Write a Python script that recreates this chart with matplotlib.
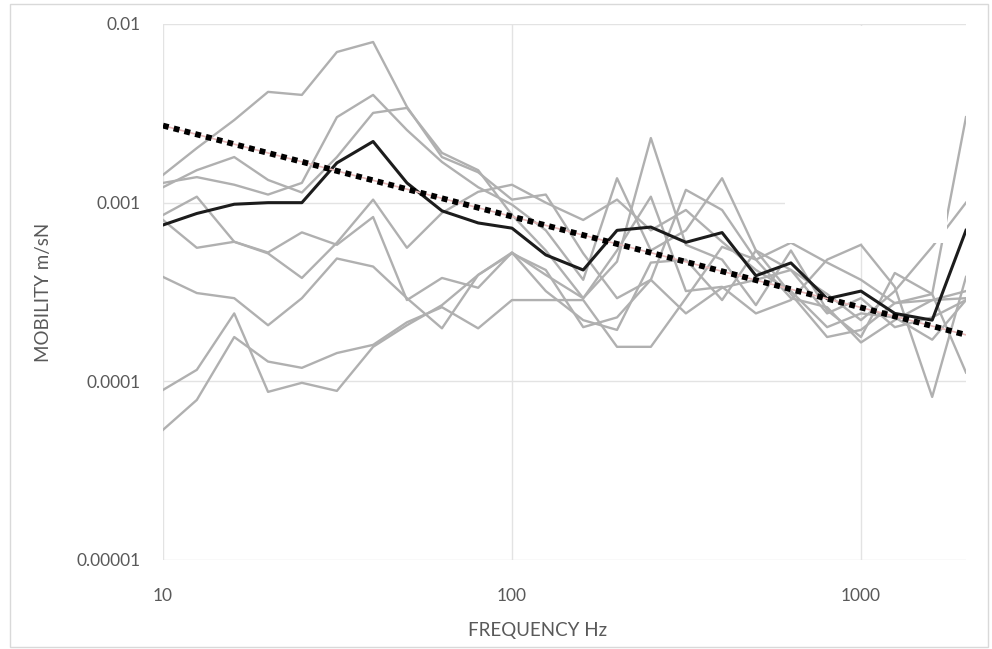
import matplotlib
matplotlib.use("Agg")
import matplotlib.pyplot as plt
from matplotlib.patches import Rectangle

# third-octave band centre frequencies (Hz)
freq = [10, 12.5, 16, 20, 25, 31.5, 40, 50, 63, 80, 100, 125, 160, 200,
        250, 315, 400, 500, 630, 800, 1000, 1250, 1600, 2000]

# individual measurements (m/sN)
m1 = [0.00143, 0.00202, 0.0029, 0.00417, 0.00401, 0.00697, 0.00793, 0.00344,
      0.0018, 0.00148, 0.00104, 0.00111, 0.00052, 0.000292, 0.00037, 0.00118,
      0.00091, 0.00048, 0.000597, 0.000462, 0.00037, 0.000274, 0.000285, 0.000292]
m2 = [0.00129, 0.00139, 0.00126, 0.00111, 0.00129, 0.00301, 0.00401, 0.00255,
      0.00169, 0.00122, 0.000975, 0.0007, 0.00037, 0.00137, 0.00054, 0.0007,
      0.00137, 0.00054, 0.00042, 0.000308, 0.00022, 0.00032, 0.000566, 0.001]
m3 = [0.00122, 0.00152, 0.0018, 0.00134, 0.00114, 0.0018, 0.00318, 0.00339,
      0.0019, 0.00152, 0.000853, 0.00054, 0.000292, 0.000468, 0.0023, 0.000581,
      0.00048, 0.000267, 0.00054, 0.00025, 0.000177, 0.000404, 0.000308, 0.00301]
m4 = [0.000853, 0.00108, 0.000604, 0.00052, 0.000379, 0.000597, 0.00104, 0.000559,
      0.000876, 0.00115, 0.00126, 0.001, 0.0008, 0.00104, 0.0007, 0.00091,
      0.000604, 0.00042, 0.00032, 0.000201, 0.00024, 0.000228, 0.000171, 0.000285]
m5 = [0.0008, 0.000559, 0.000604, 0.000526, 0.000682, 0.000581, 0.000831, 0.000285,
      0.000379, 0.000334, 0.000526, 0.000394, 0.000292, 0.00054, 0.00108, 0.00032,
      0.000338, 0.00024, 0.000285, 0.00048, 0.000581, 0.000338, 0.0000818, 0.000384]
m6 = [0.000384, 0.000312, 0.000292, 0.000206, 0.000292, 0.000487, 0.000439, 0.000292,
      0.000198, 0.000394, 0.000526, 0.00032, 0.00022, 0.000194, 0.000462, 0.00048,
      0.000285, 0.00054, 0.000308, 0.000177, 0.000194, 0.000274, 0.000308, 0.000112]
m7 = [0.0000895, 0.000116, 0.00024, 0.0000873, 0.0000981, 0.0000884, 0.000156, 0.000206,
      0.000267, 0.000394, 0.00052, 0.00042, 0.000201, 0.000228, 0.00037, 0.00024,
      0.000334, 0.00037, 0.00042, 0.00024, 0.000292, 0.000201, 0.000228, 0.000285]
m8 = [0.0000535, 0.0000787, 0.000177, 0.000129, 0.000119, 0.000144, 0.00016, 0.000214,
      0.00026, 0.000198, 0.000285, 0.000285, 0.000285, 0.000156, 0.000156, 0.000292,
      0.000566, 0.00048, 0.000292, 0.00026, 0.000165, 0.00022, 0.000285, 0.00032]

# average of the measurements
mean = [0.00075, 0.00087, 0.00098, 0.001, 0.001, 0.00167, 0.0022, 0.00129,
        0.0009, 0.00077, 0.00072, 0.00051, 0.00042, 0.0007, 0.00073, 0.0006,
        0.00068, 0.00039, 0.00046, 0.00029, 0.00032, 0.00024, 0.00022, 0.0007]

# power trend line end points
trend_freq = [10, 2000]
trend_val = [0.0027, 0.000182]

yticks = [0.00001, 0.0001, 0.001, 0.01]
ytick_labels = ["0.00001", "0.0001", "0.001", "0.01"]
xticks = [10, 100, 1000]
xtick_labels = ["10", "100", "1000"]

plt.rcParams["font.family"] = ["Lato", "DejaVu Sans"]
txt = "#595959"

fig = plt.figure(figsize=(9.92, 6.49), dpi=100)
ax = fig.add_axes([163 / 992, 1 - 560 / 649, (966 - 163) / 992, (560 - 24) / 649])

for s in [m1, m2, m3, m4, m5, m6, m7, m8]:
    ax.plot(freq, s, color="#b0b0b0", lw=1.7, zorder=2)

ax.plot(freq, mean, color="#1c1c1c", lw=2.2, zorder=4)
ax.plot(trend_freq, trend_val, color="#e6b8b8", lw=1.2, zorder=5)
ax.plot(trend_freq, trend_val, color="black", lw=4.2, linestyle=(0, (1.0, 0.9)),
        dash_capstyle="butt", zorder=6)

ax.set_xscale("log")
ax.set_yscale("log")
ax.set_xlim(10, 2000)
ax.set_ylim(0.00001, 0.01)
ax.set_xticks(xticks)
ax.set_xticklabels(xtick_labels)
ax.set_yticks(yticks)
ax.set_yticklabels(ytick_labels)
ax.minorticks_off()
ax.tick_params(length=0, labelsize=12.5, colors=txt)
ax.tick_params(axis="x", pad=20)
ax.tick_params(axis="y", pad=16)
ax.grid(True, color="#e3e3e3", lw=1.0, zorder=0)
ax.set_axisbelow(True)
for sp in ax.spines.values():
    sp.set_visible(False)

# white patches over part of the plot, as in the source image
ax.add_patch(Rectangle((0.7746, 0.5914), 0.2017, 0.405, transform=ax.transAxes,
                       facecolor="white", edgecolor="none", zorder=7))
ax.add_patch(Rectangle((0.976, 0.5914), 0.03, 0.405, transform=ax.transAxes,
                       facecolor="white", edgecolor="none", zorder=1, clip_on=False))

ax.set_xlabel("FREQUENCY Hz", fontsize=13.5, color=txt)
ax.set_ylabel("MOBILITY m/sN", fontsize=13.5, color=txt)
ax.xaxis.set_label_coords(0.466, -0.116)
ax.yaxis.set_label_coords(-0.138, 0.5)

fig.add_artist(Rectangle((10 / 992, 2 / 649), 978 / 992, 643 / 649, transform=fig.transFigure,
                         facecolor="none", edgecolor="#d9d9d9", lw=1.0))

fig.savefig("out.png", dpi=100)
